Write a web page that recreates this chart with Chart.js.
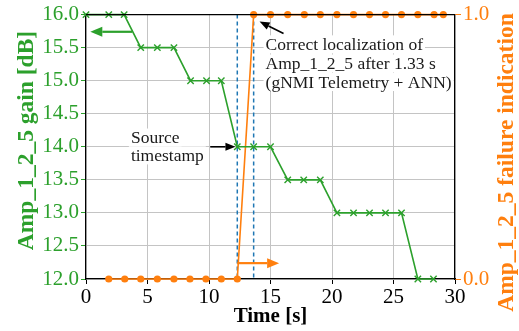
<!DOCTYPE html>
<html>
<head>
<meta charset="utf-8">
<script src="https://cdn.jsdelivr.net/npm/chart.js@4.4.1/dist/chart.umd.min.js"></script>
<style>
  html, body { margin: 0; padding: 0; background: #fff; }
  #wrap { width: 519px; height: 331px; }
</style>
</head>
<body>
<div id="wrap"><canvas id="chart" width="519" height="331"></canvas></div>
<script>
// gain samples (green, left axis)
const gainTimes = [0, 1.85, 3.1, 4.45, 5.8, 7.15, 8.5, 9.8, 11.0, 12.3, 13.63, 15.0, 16.4, 17.7, 19.05, 20.4, 21.75, 23.05, 24.35, 25.65, 26.98, 28.25];
const gainValues = [16, 16, 16, 15.5, 15.5, 15.5, 15, 15, 15, 14, 14, 14, 13.5, 13.5, 13.5, 13, 13, 13, 13, 13, 12, 12];

// failure indication samples (orange, right axis)
const failTimes = [1.85, 3.15, 4.45, 5.8, 7.15, 8.45, 9.75, 11.0, 12.3, 13.63, 15.0, 16.4, 17.75, 19.05, 20.4, 21.75, 23.05, 24.35, 25.65, 26.98, 28.3, 29.05];
const failValues = [0, 0, 0, 0, 0, 0, 0, 0, 0, 1, 1, 1, 1, 1, 1, 1, 1, 1, 1, 1, 1, 1];

// event markers: source timestamp and detection time
const eventTimes = [12.3, 13.63];

const xTicks = [0, 5, 10, 15, 20, 25, 30];
const gainTicks = [12.0, 12.5, 13.0, 13.5, 14.0, 14.5, 15.0, 15.5, 16.0];
const failTicks = [0.0, 1.0];

const GREEN = '#2ca02c';
const ORANGE = '#ff7f0e';
const BLUE = '#1f77b4';
const GRID = '#c4c4c4';
const SERIF = '"Liberation Serif", "Times New Roman", serif';

// annotations in data coordinates
const arrows = [
    { axis: 'y', from: [3.75, 15.74], to: [0.35, 15.74], color: GREEN, width: 2.2, head: 12, headW: 10 },
    { axis: 'y2', from: [12.3, 0.06], to: [15.7, 0.06], color: ORANGE, width: 2.2, head: 12, headW: 10 },
    { axis: 'y', from: [10.1, 14.0], to: [12.15, 14.0], color: '#000', width: 1.6, head: 10, headW: 8 },
    { axis: 'y', from: [16.06, 15.714], to: [14.11, 15.895], color: '#000', width: 1.6, head: 10, headW: 8 }
];
const labels = [
    { x: 3.65, y: 14.14, text: 'Source' },
    { x: 3.65, y: 13.87, text: 'timestamp' },
    { x: 14.6, y: 15.55, text: 'Correct localization of' },
    { x: 14.6, y: 15.26, text: 'Amp_1_2_5 after 1.33 s' },
    { x: 14.6, y: 14.98, text: '(gNMI Telemetry + ANN)' }
];
const axisTitles = [
    { text: 'Amp_1_2_5 gain [dB]', color: GREEN, x: 33, y: 140.5 },
    { text: 'Amp_1_2_5 failure indication', color: ORANGE, x: 513, y: 162.5 }
];

function drawArrow(ctx, x1, y1, x2, y2, a) {
    const ang = Math.atan2(y2 - y1, x2 - x1);
    const bx = x2 - a.head * Math.cos(ang);
    const by = y2 - a.head * Math.sin(ang);
    ctx.strokeStyle = a.color;
    ctx.fillStyle = a.color;
    ctx.lineWidth = a.width;
    ctx.beginPath();
    ctx.moveTo(x1, y1);
    ctx.lineTo(bx, by);
    ctx.stroke();
    ctx.beginPath();
    ctx.moveTo(x2, y2);
    ctx.lineTo(bx + a.headW / 2 * Math.sin(ang), by - a.headW / 2 * Math.cos(ang));
    ctx.lineTo(bx - a.headW / 2 * Math.sin(ang), by + a.headW / 2 * Math.cos(ang));
    ctx.closePath();
    ctx.fill();
}

const decorPlugin = {
    id: 'decor',
    beforeDatasetsDraw(chart) {
        const { ctx, chartArea, scales } = chart;
        ctx.save();
        ctx.strokeStyle = BLUE;
        ctx.lineWidth = 1.5;
        ctx.setLineDash([4, 3]);
        eventTimes.forEach(t => {
            const px = scales.x.getPixelForValue(t);
            ctx.beginPath();
            ctx.moveTo(px, chartArea.top);
            ctx.lineTo(px, chartArea.bottom);
            ctx.stroke();
        });
        ctx.restore();
    },
    afterDatasetsDraw(chart) {
        const { ctx, chartArea, scales } = chart;
        ctx.save();
        // top frame line
        ctx.strokeStyle = '#000';
        ctx.lineWidth = 1.2;
        ctx.beginPath();
        ctx.moveTo(chartArea.left, chartArea.top);
        ctx.lineTo(chartArea.right, chartArea.top);
        ctx.stroke();

        arrows.forEach(a => {
            const ys = scales[a.axis];
            drawArrow(ctx,
                scales.x.getPixelForValue(a.from[0]), ys.getPixelForValue(a.from[1]),
                scales.x.getPixelForValue(a.to[0]), ys.getPixelForValue(a.to[1]), a);
        });

        ctx.font = '17.5px ' + SERIF;
        ctx.textBaseline = 'middle';
        ctx.textAlign = 'left';
        labels.forEach(l => {
            const px = scales.x.getPixelForValue(l.x);
            const py = scales.y.getPixelForValue(l.y);
            const w = ctx.measureText(l.text).width;
            ctx.fillStyle = '#fff';
            ctx.fillRect(px - 2, py - 9, w + 4, 18);
            ctx.fillStyle = '#1a1a1a';
            ctx.fillText(l.text, px, py + 1);
        });
        ctx.restore();

        // y axis titles, both reading bottom to top
        axisTitles.forEach(t => {
            ctx.save();
            ctx.font = 'bold 23.5px ' + SERIF;
            ctx.fillStyle = t.color;
            ctx.textAlign = 'center';
            ctx.textBaseline = 'alphabetic';
            ctx.translate(t.x, t.y);
            ctx.rotate(-Math.PI / 2);
            ctx.fillText(t.text, 0, 0);
            ctx.restore();
        });
    }
};

new Chart(document.getElementById('chart'), {
    type: 'line',
    data: {
        datasets: [
            {
                label: 'gain',
                data: gainTimes.map((t, i) => ({ x: t, y: gainValues[i] })),
                yAxisID: 'y',
                borderColor: GREEN,
                backgroundColor: GREEN,
                borderWidth: 1.6,
                pointStyle: 'crossRot',
                pointRadius: 4.5,
                pointBorderWidth: 1.4,
                tension: 0,
                clip: false
            },
            {
                label: 'failure',
                data: failTimes.map((t, i) => ({ x: t, y: failValues[i] })),
                yAxisID: 'y2',
                borderColor: ORANGE,
                backgroundColor: ORANGE,
                borderWidth: 1.6,
                pointStyle: 'circle',
                pointRadius: 3.6,
                pointBorderWidth: 0,
                tension: 0,
                clip: false
            }
        ]
    },
    options: {
        responsive: false,
        animation: false,
        layout: { padding: { top: 13, left: 0, right: 0, bottom: 0 } },
        plugins: { legend: { display: false }, tooltip: { enabled: false } },
        scales: {
            x: {
                type: 'linear',
                min: 0, max: 30,
                afterFit: s => { s.height = 52; },
                afterBuildTicks: s => { s.ticks = xTicks.map(v => ({ value: v })); },
                grid: { color: GRID, lineWidth: 1, tickColor: '#000', tickLength: 5 },
                border: { color: '#000', width: 1.2 },
                ticks: { color: '#000', font: { family: SERIF, size: 21 }, padding: 1, maxRotation: 0 },
                title: { display: true, text: 'Time [s]', color: '#000', font: { family: SERIF, size: 21, weight: 'bold' }, padding: { top: 0, bottom: 2 } }
            },
            y: {
                position: 'left',
                min: 12, max: 16,
                afterFit: s => { s.width = 86; },
                afterBuildTicks: s => { s.ticks = gainTicks.map(v => ({ value: v })); },
                grid: { color: GRID, lineWidth: 1, tickColor: GREEN, tickLength: 5 },
                border: { color: '#000', width: 1.2 },
                ticks: { color: GREEN, font: { family: SERIF, size: 21 }, padding: 2, callback: v => v.toFixed(1) }
            },
            y2: {
                position: 'right',
                min: 0, max: 1,
                afterFit: s => { s.width = 64; },
                afterBuildTicks: s => { s.ticks = failTicks.map(v => ({ value: v })); },
                grid: { drawOnChartArea: false, color: ORANGE, tickColor: ORANGE, tickLength: 6 },
                border: { color: '#000', width: 1.2 },
                ticks: { color: ORANGE, font: { family: SERIF, size: 21 }, padding: 2, callback: v => v.toFixed(1) }
            }
        }
    },
    plugins: [decorPlugin]
});
</script>
</body>
</html>
